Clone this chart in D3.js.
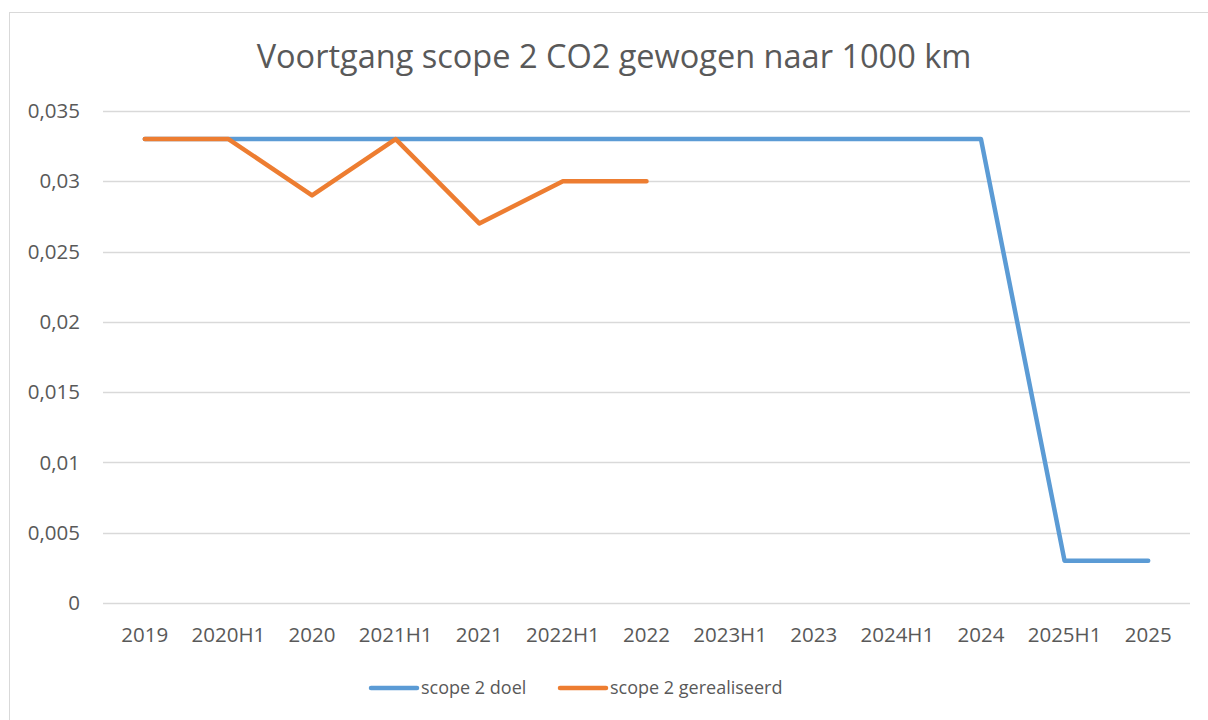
<!DOCTYPE html>
<html>
<head>
<meta charset="utf-8">
<script src="https://cdn.jsdelivr.net/npm/d3@7"></script>
<style>
  body { margin: 0; background: #fff; }
  svg { display: block; font-family: "Open Sans", "Noto Sans", sans-serif; }
</style>
</head>
<body>
<svg id="chart"></svg>
<script>
const categories = ["2019", "2020H1", "2020", "2021H1", "2021", "2022H1", "2022",
    "2023H1", "2023", "2024H1", "2024", "2025H1", "2025"];
const doelValues = [0.033, 0.033, 0.033, 0.033, 0.033, 0.033, 0.033,
    0.033, 0.033, 0.033, 0.033, 0.003, 0.003];
const gerealiseerdValues = [0.033, 0.033, 0.029, 0.033, 0.027, 0.030, 0.030];
const yTicks = [0, 0.005, 0.01, 0.015, 0.02, 0.025, 0.03, 0.035];

const series = [
    {name: "scope 2 doel", values: doelValues, color: "#5b9bd5"},
    {name: "scope 2 gerealiseerd", values: gerealiseerdValues, color: "#ed7d31"}
];

const width = 1208, height = 720;
const svg = d3.select("#chart").attr("width", width).attr("height", height);

// chart border
svg.append("rect")
    .attr("x", 9.5).attr("y", 12.5)
    .attr("width", width - 9).attr("height", height)
    .attr("fill", "#fff").attr("stroke", "#d9d9d9");

const margin = {left: 103, right: 18, top: 111, bottom: 117};
const x = d3.scaleBand().domain(categories).range([margin.left, width - margin.right]);
const y = d3.scaleLinear().domain([0, 0.035]).range([height - margin.bottom, margin.top]);

svg.append("text")
    .attr("x", 614).attr("y", 68)
    .attr("text-anchor", "middle")
    .attr("font-size", 32.5)
    .attr("fill", "#595959")
    .text("Voortgang scope 2 CO2 gewogen naar 1000 km");

// grid
svg.append("g").selectAll("line")
    .data(yTicks).enter().append("line")
    .attr("x1", margin.left).attr("x2", width - margin.right)
    .attr("y1", d => Math.round(y(d)) + 0.5).attr("y2", d => Math.round(y(d)) + 0.5)
    .attr("stroke", "#d9d9d9").attr("stroke-width", 1.5);

const fmt = d => d === 0 ? "0" : String(d).replace(".", ",");

svg.append("g").selectAll("text")
    .data(yTicks).enter().append("text")
    .attr("x", 80).attr("y", d => y(d))
    .attr("dy", "0.35em")
    .attr("text-anchor", "end")
    .attr("font-size", 20.5)
    .attr("fill", "#595959")
    .text(fmt);

svg.append("g").selectAll("text")
    .data(categories).enter().append("text")
    .attr("x", d => x(d) + x.bandwidth() / 2)
    .attr("y", 642)
    .attr("text-anchor", "middle")
    .attr("font-size", 20.5)
    .attr("fill", "#595959")
    .text(d => d);

const line = d3.line()
    .x((d, i) => x(categories[i]) + x.bandwidth() / 2)
    .y(d => y(d));

svg.append("g").selectAll("path")
    .data(series).enter().append("path")
    .attr("d", d => line(d.values))
    .attr("fill", "none")
    .attr("stroke", d => d.color)
    .attr("stroke-width", 4.5)
    .attr("stroke-linecap", "round")
    .attr("stroke-linejoin", "round");

// legend
const legendPos = [369, 558];
const legend = svg.append("g").selectAll("g")
    .data(series).enter().append("g")
    .attr("transform", (d, i) => `translate(${legendPos[i]},688)`);
legend.append("line")
    .attr("x1", 2).attr("x2", 48)
    .attr("stroke", d => d.color).attr("stroke-width", 4.5)
    .attr("stroke-linecap", "round");
legend.append("text")
    .attr("x", 52).attr("dy", "0.35em")
    .attr("font-size", 18)
    .attr("fill", "#595959")
    .text(d => d.name);
</script>
</body>
</html>
